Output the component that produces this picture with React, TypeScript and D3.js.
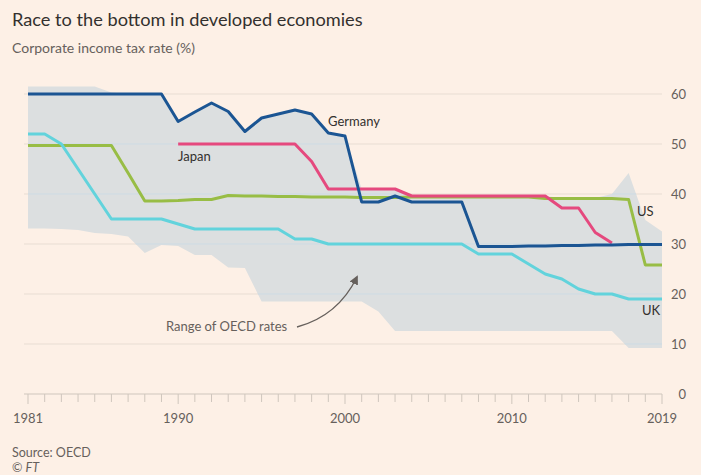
import React from "react";
import * as d3 from "d3";

const years = d3.range(1981, 2020);

const germany = [60, 60, 60, 60, 60, 60, 60, 60, 60, 54.5, 56.4, 58.2, 56.5, 52.5, 55.2, 56, 56.8, 56, 52.2, 51.6, 38.4, 38.4, 39.6, 38.4, 38.4, 38.4, 38.4, 29.5, 29.5, 29.5, 29.6, 29.6, 29.7, 29.7, 29.8, 29.8, 29.9, 29.9, 29.9];
const japanYears = d3.range(1990, 2017);
const japan = [50, 50, 50, 50, 50, 50, 50, 50, 46.5, 41, 41, 41, 41, 41, 39.6, 39.6, 39.6, 39.6, 39.6, 39.6, 39.6, 39.6, 39.6, 37.2, 37.2, 32.3, 30.2];
const us = [49.7, 49.7, 49.7, 49.7, 49.7, 49.7, 44.2, 38.6, 38.6, 38.7, 38.9, 38.9, 39.7, 39.6, 39.6, 39.5, 39.5, 39.4, 39.4, 39.4, 39.3, 39.3, 39.3, 39.4, 39.4, 39.4, 39.4, 39.4, 39.4, 39.4, 39.4, 39.1, 39.1, 39.1, 39.1, 39.1, 38.9, 25.8, 25.8];
const uk = [52, 52, 50, 45, 40, 35, 35, 35, 35, 34, 33, 33, 33, 33, 33, 33, 31, 31, 30, 30, 30, 30, 30, 30, 30, 30, 30, 28, 28, 28, 26, 24, 23, 21, 20, 20, 19, 19, 19];
const oecdHigh = [61.5, 61.5, 61.5, 61.5, 61.5, 60.3, 60, 60, 60, 54.5, 56.4, 58.2, 56.5, 52.5, 55.2, 56, 56.8, 56, 52.2, 51.6, 41, 41, 41, 39.6, 39.6, 39.6, 39.6, 39.6, 39.6, 39.6, 39.6, 39.6, 39.2, 39.2, 39.2, 40, 44.2, 34.8, 32.5];
const oecdLow = [33.1, 33.1, 33, 32.8, 32.2, 32, 31.5, 28.2, 29.8, 29.6, 27.8, 27.8, 25.3, 25.2, 18.5, 18.5, 18.5, 18.5, 18.5, 18.5, 18.5, 16.5, 12.6, 12.6, 12.6, 12.6, 12.6, 12.6, 12.6, 12.6, 12.6, 12.6, 12.6, 12.6, 12.6, 12.6, 9.2, 9.2, 9.2];

const yTicks = [0, 10, 20, 30, 40, 50, 60];
const xLabels = [1981, 1990, 2000, 2010, 2019];

const FONT = "Lato, 'Open Sans', sans-serif";

export default function App() {
  const W = 701, H = 475;
  const x = d3.scaleLinear().domain([1981, 2019]).range([28, 662]);
  const y = d3.scaleLinear().domain([0, 60]).range([394, 94]);

  const line = d3.line<[number, number]>().x(d => x(d[0])).y(d => y(d[1]));
  const area = d3.area<number>()
    .x((_, i) => x(years[i]))
    .y0((_, i) => y(oecdLow[i]))
    .y1((_, i) => y(oecdHigh[i]));

  const pairs = (ys: number[], vs: number[]) => ys.map((yr, i) => [yr, vs[i]] as [number, number]);

  const series = [
    { name: "US", data: pairs(years, us), color: "#98bd45" },
    { name: "UK", data: pairs(years, uk), color: "#62d3dc" },
    { name: "Japan", data: pairs(japanYears, japan), color: "#e5497e" },
    { name: "Germany", data: pairs(years, germany), color: "#1b5593" },
  ];

  const bandPath = area(years.map(() => 0)) || "";

  return (
    <svg width={W} height={H} style={{ position: "absolute", left: 0, top: 0, background: "#fdf0e6" }} fontFamily={FONT}>
      <defs>
        <clipPath id="bandClip"><path d={bandPath} /></clipPath>
        <marker id="arrow" viewBox="0 0 10 10" refX="8" refY="5" markerWidth="7" markerHeight="7" orient="auto-start-reverse">
          <path d="M0,0 L10,5 L0,10 z" fill="#66605c" />
        </marker>
      </defs>
      <rect width={W} height={H} fill="#fdf0e6" />
      <text x={12} y={26} fontSize={18.2} fill="#33302e">Race to the bottom in developed economies</text>
      <text x={12} y={53} fontSize={14} fill="#66605c">Corporate income tax rate (%)</text>

      {yTicks.filter(t => t > 0).map(t => (
        <line key={"g" + t} x1={24} x2={662} y1={y(t)} y2={y(t)} stroke="#e8ddd3" strokeWidth={1} />
      ))}
      <path d={bandPath} fill="#dcdfe0" />
      <g clipPath="url(#bandClip)">
        {yTicks.filter(t => t > 0).map(t => (
          <line key={"gb" + t} x1={24} x2={662} y1={y(t)} y2={y(t)} stroke="#cddbe4" strokeWidth={1} />
        ))}
      </g>

      {/* x axis */}
      <line x1={24} x2={662} y1={y(0)} y2={y(0)} stroke="#cfc6bd" strokeWidth={1} />
      {years.map(yr => (
        <line key={"t" + yr} x1={x(yr)} x2={x(yr)} y1={y(0)} y2={y(0) + (xLabels.includes(yr) ? 10 : 8)} stroke="#cfc6bd" strokeWidth={1} />
      ))}
      {xLabels.map(yr => (
        <text key={"xl" + yr} x={x(yr)} y={423} fontSize={13} fill="#66605c" textAnchor="middle">{yr}</text>
      ))}
      {yTicks.map(t => (
        <text key={"yl" + t} x={686} y={y(t) + 4.5} fontSize={13} fill="#66605c" textAnchor="end">{t}</text>
      ))}

      {series.map(s => (
        <path key={s.name} d={line(s.data) || ""} fill="none" stroke={s.color} strokeWidth={3} strokeLinejoin="round" />
      ))}

      <text x={328} y={126} fontSize={13} fill="#33302e">Germany</text>
      <text x={178} y={161} fontSize={13} fill="#33302e">Japan</text>
      <text x={637} y={216} fontSize={13} fill="#33302e">US</text>
      <text x={642} y={315} fontSize={13} fill="#33302e">UK</text>

      <text x={166} y={331} fontSize={13} fill="#66605c">Range of OECD rates</text>
      <path d="M297,327 Q338,316 357,277" fill="none" stroke="#66605c" strokeWidth={1.3} markerEnd="url(#arrow)" />

      <text x={12} y={457} fontSize={12.5} fill="#66605c">Source: OECD</text>
      <text x={12} y={472} fontSize={12.5} fill="#66605c">© <tspan fontStyle="italic">FT</tspan></text>
    </svg>
  );
}
